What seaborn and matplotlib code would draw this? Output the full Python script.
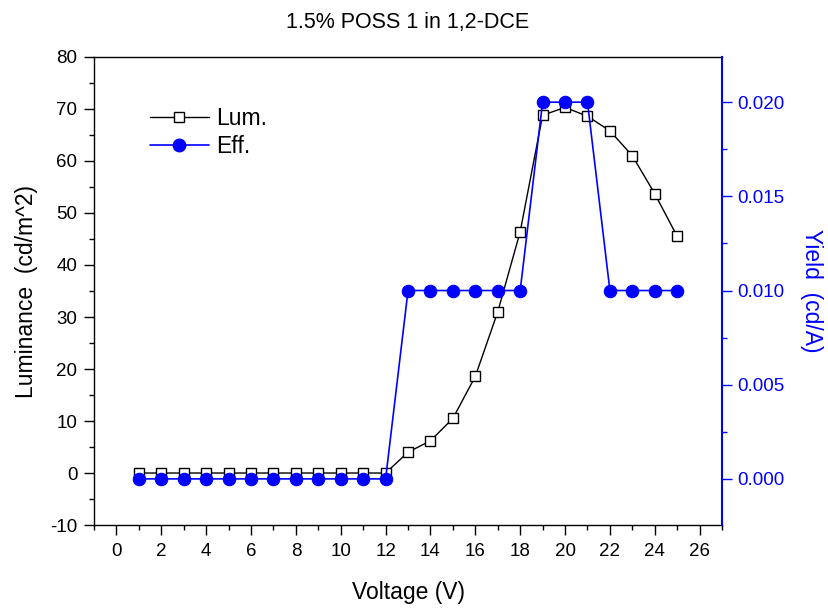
import matplotlib
matplotlib.use("Agg")
import matplotlib.pyplot as plt
import seaborn as sns
import pandas as pd
from matplotlib.ticker import MultipleLocator, FormatStrFormatter
from matplotlib.lines import Line2D

voltage = [1, 2, 3, 4, 5, 6, 7, 8, 9, 10, 11, 12, 13, 14, 15, 16, 17, 18, 19, 20, 21, 22, 23, 24, 25]
luminance = [0, 0, 0, 0, 0, 0, 0, 0, 0, 0, 0, 0, 4.0, 6.2, 10.5, 18.6, 31.0, 46.4, 68.8, 70.3, 68.6, 65.8, 61.0, 53.7, 45.5]
yield_eff = [0.0, 0.0, 0.0, 0.0, 0.0, 0.0, 0.0, 0.0, 0.0, 0.0, 0.0, 0.0,
             0.010, 0.010, 0.010, 0.010, 0.010, 0.010, 0.020, 0.020, 0.020, 0.010, 0.010, 0.010, 0.010]

df = pd.DataFrame({"Voltage": voltage, "Lum": luminance, "Eff": yield_eff})

sns.set_style("ticks")
plt.rcParams["font.family"] = ["Liberation Sans", "DejaVu Sans"]
plt.rcParams["axes.unicode_minus"] = False
plt.rcParams["text.color"] = "black"
plt.rcParams["axes.labelcolor"] = "black"
plt.rcParams["xtick.color"] = "black"
plt.rcParams["ytick.color"] = "black"

fig = plt.figure(figsize=(8.29, 6.10), dpi=100)
ax = fig.add_axes([0.1134, 0.1393, 0.7576, 0.7673])
ax2 = ax.twinx()

sns.lineplot(data=df, x="Voltage", y="Lum", ax=ax, color="black", linewidth=1.0,
             marker="s", markersize=7, markerfacecolor="white", markeredgecolor="black",
             markeredgewidth=1.0, zorder=3)
sns.lineplot(data=df, x="Voltage", y="Eff", ax=ax2, color="blue", linewidth=1.2,
             marker="o", markersize=9, markerfacecolor="blue", markeredgecolor="blue", zorder=2)

ax.set_xlim(-1, 27)
ax.set_ylim(-10, 80)
ax2.set_ylim(-0.00245, 0.0224)

ax.xaxis.set_major_locator(MultipleLocator(2))
ax.xaxis.set_minor_locator(MultipleLocator(1))
ax.yaxis.set_major_locator(MultipleLocator(10))
ax.yaxis.set_minor_locator(MultipleLocator(5))
ax2.yaxis.set_major_locator(MultipleLocator(0.005))
ax2.yaxis.set_minor_locator(MultipleLocator(0.0025))
ax2.yaxis.set_major_formatter(FormatStrFormatter("%.3f"))

ax.tick_params(axis="both", which="major", length=7, width=1, labelsize=13.5, direction="out",
               colors="black", labelcolor="black", pad=5)
ax.tick_params(axis="x", which="major", pad=6)
ax.tick_params(axis="both", which="minor", length=3.5, width=1, direction="out", colors="black")
ax2.tick_params(axis="y", which="major", length=7, width=1, labelsize=13.5, colors="blue", pad=4)
ax2.tick_params(axis="y", which="minor", length=3.5, width=1, colors="blue")

for side in ["top", "bottom", "left"]:
    ax.spines[side].set_visible(True)
    ax.spines[side].set_color("black")
    ax.spines[side].set_linewidth(1.0)
ax.spines["right"].set_visible(False)
for side in ["top", "bottom", "left"]:
    ax2.spines[side].set_visible(False)
ax2.spines["right"].set_visible(True)
ax2.spines["right"].set_color("blue")
ax2.spines["right"].set_linewidth(1.5)

ax.set_xlabel("Voltage (V)", fontsize=16.5, labelpad=15, color="black")
ax.set_ylabel("Luminance  (cd/m^2)", fontsize=16.5, labelpad=9, color="black")
ax2.set_ylabel("Yield  (cd/A)", fontsize=16.5, color="blue", rotation=270, labelpad=28)
ax.set_title("1.5% POSS 1 in 1,2-DCE", fontsize=15.5, pad=21, color="black")

handles = [
    Line2D([], [], color="black", linewidth=1.0, marker="s", markersize=7,
           markerfacecolor="white", markeredgecolor="black"),
    Line2D([], [], color="blue", linewidth=1.2, marker="o", markersize=9,
           markerfacecolor="blue", markeredgecolor="blue"),
]
leg = ax.legend(handles, ["Lum.", "Eff."], loc="upper left", bbox_to_anchor=(0.074, 0.912),
                frameon=False, fontsize=16.5, handlelength=2.6, handletextpad=0.3,
                labelspacing=0.2, borderaxespad=0)
for t in leg.get_texts():
    t.set_color("black")
if ax2.get_legend():
    ax2.get_legend().remove()

fig.savefig("out.png", dpi=100)
